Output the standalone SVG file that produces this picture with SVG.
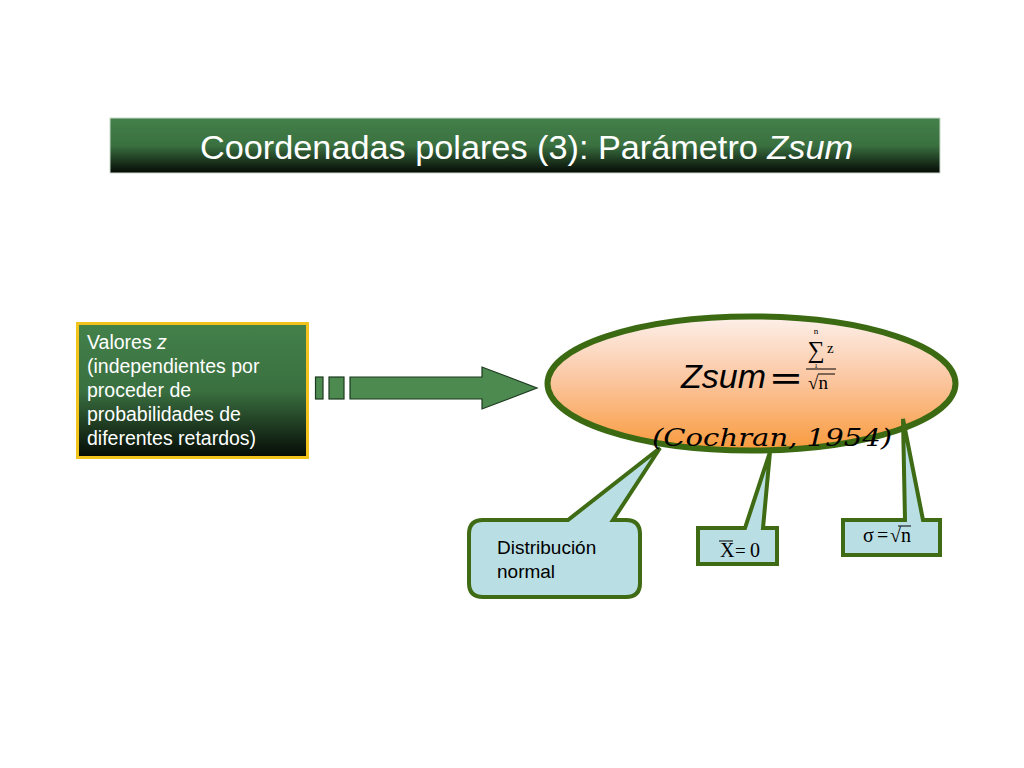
<svg xmlns="http://www.w3.org/2000/svg" width="1024" height="768" viewBox="0 0 1024 768">
<defs>
<linearGradient id="gGreen" x1="0" y1="0" x2="0" y2="1">
<stop offset="0" stop-color="#43814a"/>
<stop offset="0.5" stop-color="#3a7040"/>
<stop offset="1" stop-color="#050a05"/>
</linearGradient>
<linearGradient id="gOrange" x1="0" y1="0" x2="0" y2="1">
<stop offset="0" stop-color="#fdf0ea"/>
<stop offset="0.45" stop-color="#fbc8a4"/>
<stop offset="1" stop-color="#f99a3c"/>
</linearGradient>
<style>
.sans{font-family:"Liberation Sans",Arial,sans-serif}
.serif{font-family:"Liberation Serif","Times New Roman",serif}
.call{fill:#b9dee3;stroke:#3e6b14;stroke-width:4;stroke-linejoin:miter}
.arr{fill:#4c8a50;stroke:#1d3a1f;stroke-width:1.2}
</style>
</defs>
<rect width="1024" height="768" fill="#ffffff"/>

<g id="title">
<rect x="110" y="118" width="830" height="55" fill="url(#gGreen)" stroke="#c9d9c9" stroke-width="1"/>
<text x="200" y="159" class="sans" font-size="34" fill="#ffffff" textLength="653" lengthAdjust="spacingAndGlyphs">Coordenadas polares (3): Parámetro <tspan font-style="italic">Zsum</tspan></text>
</g>

<g id="valores">
<rect x="77.5" y="323.5" width="230" height="134" fill="url(#gGreen)" stroke="#f2c31c" stroke-width="3"/>
<text class="sans" font-size="19.5" fill="#ffffff">
<tspan x="87" y="349">Valores <tspan font-style="italic">z</tspan></tspan>
<tspan x="87" y="373">(independientes por</tspan>
<tspan x="87" y="397">proceder de</tspan>
<tspan x="87" y="421">probabilidades de</tspan>
<tspan x="87" y="445">diferentes retardos)</tspan>
</text>
</g>

<g id="connectors">
<rect class="arr" x="315.5" y="377" width="7.5" height="22"/>
<rect class="arr" x="329" y="377" width="15" height="22"/>
<path class="arr" d="M350,377 H482 V367 L537,388 L482,409 V399 H350 Z"/>
</g>

<g id="zsum">
<ellipse cx="751.5" cy="383.5" rx="204" ry="67" fill="url(#gOrange)" stroke="#3b6a13" stroke-width="6"/>
<text x="681" y="388" class="sans" font-size="34" font-style="italic" fill="#000000">Zsum</text>
<text x="770" y="388" class="sans" font-size="26" font-style="italic" font-weight="bold" fill="#000000" textLength="30" lengthAdjust="spacingAndGlyphs">=</text>
<g class="serif" fill="#000000">
<text x="816" y="334" font-size="9" text-anchor="middle">n</text>
<text x="816" y="358" font-size="24" text-anchor="middle">∑</text>
<text x="827" y="353" font-size="15">z</text>
<text x="816" y="367.5" font-size="7" text-anchor="middle">1</text>
<line x1="806" y1="369" x2="836" y2="369" stroke="#000000" stroke-width="1"/>
<text x="808" y="389" font-size="19">√n</text>
<line x1="818" y1="374" x2="835" y2="374" stroke="#000000" stroke-width="1"/>
</g>
</g>

<g id="distribucion">
<path class="call" d="M483,520 H568 L660,448 L613,520 H626 Q640,520 640,534 V583 Q640,597 626,597 H483 Q469,597 469,583 V534 Q469,520 483,520 Z"/>
<text class="sans" font-size="19" fill="#000000"><tspan x="497" y="554">Distribución</tspan><tspan x="497" y="578">normal</tspan></text>
</g>

<g id="media">
<path class="call" d="M698,528 H745 L770,452 L763,528 H777 V564 H698 Z"/>
<text x="720" y="557" class="serif" font-size="20" fill="#000000">X</text>
<line x1="719" y1="541" x2="733" y2="541" stroke="#000000" stroke-width="1"/>
<text x="735" y="557" class="serif" font-size="19" fill="#000000">=</text>
<text x="750" y="557" class="serif" font-size="20" fill="#000000">0</text>
</g>

<g id="sigma">
<path class="call" d="M843,520 H905 L903,419 L923,520 H940 V555 H843 Z"/>
<text x="863" y="542" class="serif" font-size="20" fill="#000000">σ</text>
<text x="877" y="542" class="serif" font-size="20" fill="#000000">=</text>
<text x="890" y="542" class="serif" font-size="20" fill="#000000">√n</text>
<line x1="898" y1="526" x2="911" y2="526" stroke="#000000" stroke-width="1"/>
</g>

<text id="cochran" x="652" y="446" font-family="'DejaVu Serif',serif" font-style="italic" font-size="25" fill="#000000" textLength="240" lengthAdjust="spacingAndGlyphs">(Cochran, 1954)</text>
</svg>
